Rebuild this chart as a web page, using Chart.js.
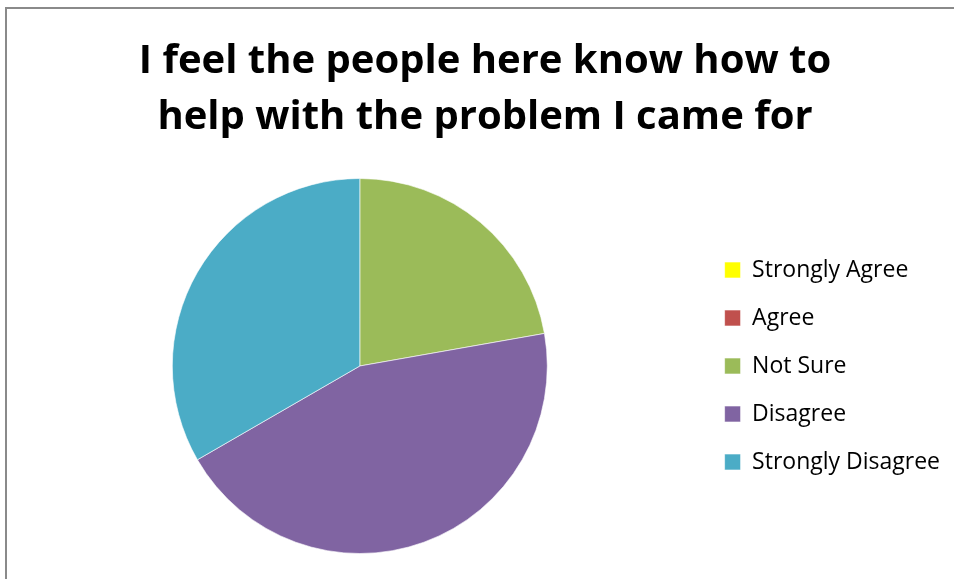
<!DOCTYPE html>
<html>
<head>
<meta charset="utf-8">
<script src="https://cdn.jsdelivr.net/npm/chart.js@4"></script>
<style>
  html, body { margin: 0; padding: 0; background: #fff; overflow: hidden; }
  #frame { position: absolute; left: 5px; top: 7px; width: 1000px; height: 700px; border: 2px solid #8a8a8a; }
  #wrap { position: absolute; left: 0; top: 0; width: 954px; height: 579px; }
</style>
</head>
<body>
<div id="frame"></div>
<div id="wrap"><canvas id="grafico_pie"></canvas></div>
<script>
var categories = ['Strongly Agree', 'Agree', 'Not Sure', 'Disagree', 'Strongly Disagree'];
var answers = [0, 0, 2, 4, 3];
var colours = ['#FFFF00', '#C0504D', '#9BBB59', '#8064A2', '#4BACC6'];
var titleLines = ['I feel the people here know how to', 'help with the problem I came for'];

var data = {
  labels: categories,
  datasets: [{
    data: answers,
    backgroundColor: colours,
    borderColor: 'rgba(255,255,255,0.6)',
    borderWidth: 1
  }]
};

var options = {
  responsive: true,
  maintainAspectRatio: false,
  animation: false,
  layout: { padding: { left: 20, right: 4, top: 0, bottom: 25 } },
  plugins: {
    title: {
      display: true,
      text: titleLines,
      color: '#000',
      font: { family: 'Open Sans', size: 40, weight: 'bold', lineHeight: 1.4 },
      padding: { top: 34, bottom: 32 }
    },
    legend: {
      position: 'right',
      fullSize: false,
      labels: {
        color: '#000',
        font: { family: 'Open Sans', size: 23 },
        boxWidth: 16,
        boxHeight: 16,
        padding: 25
      }
    },
    tooltip: { enabled: false }
  }
};

var ctx = document.getElementById('grafico_pie').getContext('2d');
var pieChart = new Chart(ctx, {
  type: 'pie',
  data: data,
  options: options
});
</script>
</body>
</html>
